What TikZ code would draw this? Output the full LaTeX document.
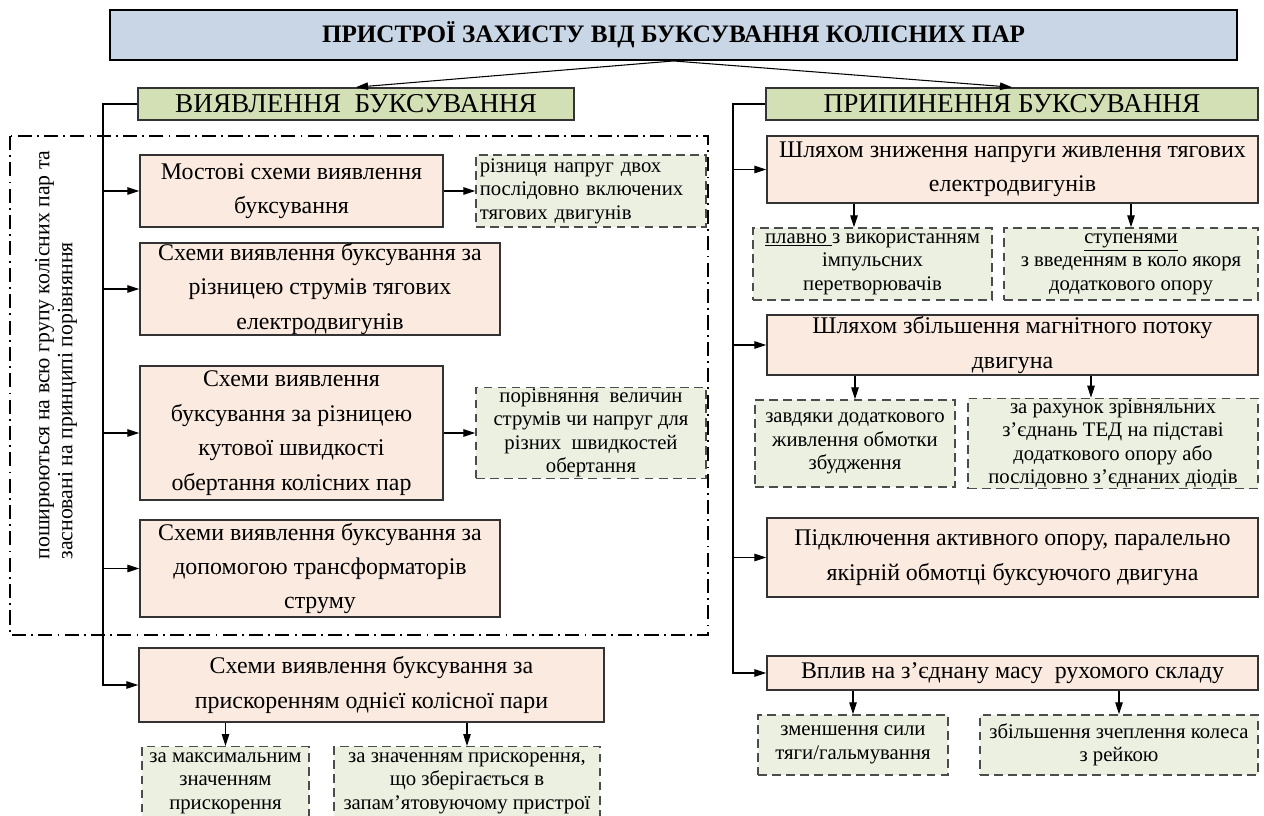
\documentclass[tikz,border=0pt]{standalone}
\usepackage{fontspec}
\setmainfont{Liberation Serif}
\usetikzlibrary{arrows.meta}
\definecolor{titleblue}{RGB}{201,214,230}
\definecolor{headgreen}{RGB}{211,223,181}
\definecolor{boxpeach}{RGB}{251,234,223}
\definecolor{notegreen}{RGB}{235,240,225}

\begin{document}
\begin{tikzpicture}[
	titlebox/.style={draw=black, line width=1.1pt, fill=titleblue, minimum height=1cm, font=\fontsize{14.3}{16}\selectfont\bfseries},
	headbox/.style={draw=black!80, line width=0.9pt, fill=headgreen, minimum height=0.64cm, inner sep=0pt, font=\fontsize{15.5}{17}\selectfont},
	mainbox/.style={draw=black!80, line width=0.8pt, fill=boxpeach, align=center, inner xsep=1pt, inner ysep=0pt, font=\fontsize{13.6}{19.6}\selectfont},
	notebox/.style={draw=black!70, line width=0.8pt, dash pattern=on 5pt off 3pt, fill=notegreen, align=center, inner xsep=1pt, inner ysep=0.5pt, font=\fontsize{11.8}{13.4}\selectfont},
	conn/.style={line width=0.6pt, -{Triangle[length=0.24cm,width=0.15cm]}}]
	\useasboundingbox (0,0) rectangle (25.28,-16.32);

	\draw[] (13.47,-0.7) node[titlebox, minimum width=22.54cm] (Title) {ПРИСТРОЇ ЗАХИСТУ ВІД БУКСУВАННЯ КОЛІСНИХ ПАР};
	\draw[] (7.12,-2.08) node[headbox, minimum width=8.72cm] (DetectHead) {ВИЯВЛЕННЯ~ БУКСУВАННЯ};
	\draw[] (20.24,-2.08) node[headbox, minimum width=9.84cm] (StopHead) {ПРИПИНЕННЯ БУКСУВАННЯ};

	% detection side
	\draw[line width=1pt, dash pattern=on 8pt off 3pt on 1pt off 3pt] (0.2,-2.72) rectangle (14.16,-12.7);
	\draw[] (1.12,-7.1) node[rotate=90, align=left, inner sep=0pt, font=\fontsize{12.4}{13}\selectfont] (ScopeNote) {поширюються на всю групу колісних пар та\\засновані на принципі порівняння};

	\draw[] (5.83,-3.82) node[mainbox, minimum width=6.06cm, minimum height=1.44cm] (Bridge) {Мостові схеми виявлення\\буксування};
	\draw[] (11.82,-3.82) node[notebox, minimum width=4.6cm, minimum height=1.44cm, text width=4.45cm, align=left] (BridgeNote) {різниця напруг двох\\послідовно включених\\тягових двигунів};
	\draw[] (6.4,-5.78) node[mainbox, minimum width=7.2cm, minimum height=1.84cm] (CurrentDiff) {Схеми виявлення буксування за\\різницею струмів тягових\\електродвигунів};
	\draw[] (5.83,-8.66) node[mainbox, minimum width=6.06cm, minimum height=2.68cm] (SpeedDiff) {Схеми виявлення\\буксування за різницею\\кутової швидкості\\обертання колісних пар};
	\draw[] (11.82,-8.66) node[notebox, minimum width=4.6cm, minimum height=1.8cm] (SpeedNote) {порівняння~ величин\\струмів чи напруг для\\різних~ швидкостей\\обертання};
	\draw[] (6.4,-11.37) node[mainbox, minimum width=7.2cm, minimum height=1.94cm] (Transformer) {Схеми виявлення буксування за\\допомогою трансформаторів\\струму};
	\draw[] (7.43,-13.7) node[mainbox, minimum width=9.3cm, minimum height=1.48cm] (Accel) {Схеми виявлення буксування за\\прискоренням однієї колісної пари};
	\draw[] (4.51,-14.92) node[notebox, anchor=north, minimum width=3.34cm, minimum height=1.46cm] (AccelMax) {за максимальним\\значенням\\прискорення};
	\draw[] (9.34,-14.92) node[notebox, anchor=north, minimum width=5.32cm, minimum height=1.46cm] (AccelMem) {за значенням прискорення,\\що зберігається в\\запам'ятовуючому пристрої};

	\coordinate (DetectTrunk) at (2.06,-2.08);
	\draw[conn] (DetectHead.west) -- (DetectTrunk) |- (Accel.west);
	\foreach \n in {Bridge,CurrentDiff,SpeedDiff,Transformer}
		\draw[conn] (\n.west -| DetectTrunk) -- (\n.west);
	\draw[conn] (Bridge.east) -- (BridgeNote.west);
	\draw[conn] (SpeedDiff.east) -- (SpeedNote.west);
	\draw[conn] (Accel.south -| AccelMax.north) -- (AccelMax.north);
	\draw[conn] (Accel.south -| AccelMem.north) -- (AccelMem.north);

	% stopping side
	\draw[] (20.25,-3.39) node[mainbox, minimum width=9.82cm, minimum height=1.34cm] (Voltage) {Шляхом зниження напруги живлення тягових\\електродвигунів};
	\draw[] (17.45,-5.28) node[notebox, minimum width=4.78cm, minimum height=1.44cm] (VoltSmooth) {\underline{плавно }з використанням\\імпульсних\\перетворювачів};
	\draw[] (22.62,-5.28) node[notebox, minimum width=5.08cm, minimum height=1.44cm] (VoltStep) {\underline{ступенями}\\з введенням в коло якоря\\додаткового опору};
	\draw[] (20.25,-6.9) node[mainbox, minimum width=9.82cm, minimum height=1.2cm] (Flux) {Шляхом збільшення магнітного потоку\\двигуна};
	\draw[] (17.1,-8.87) node[notebox, minimum width=4.0cm, minimum height=1.74cm] (FluxFeed) {завдяки додаткового\\живлення обмотки\\збудження};
	\draw[] (22.26,-8.87) node[notebox, minimum width=5.8cm, minimum height=1.74cm] (FluxBalance) {за рахунок зрівняльних\\з’єднань ТЕД на підставі\\додаткового опору або\\послідовно з’єднаних діодів};
	\draw[] (20.25,-11.15) node[mainbox, minimum width=9.82cm, minimum height=1.58cm] (Shunt) {Підключення активного опору, паралельно\\якірній обмотці буксуючого двигуна};
	\draw[] (20.25,-13.46) node[mainbox, minimum width=9.82cm, minimum height=0.68cm] (Mass) {Вплив на з’єднану масу~ рухомого складу};
	\draw[] (17.06,-14.9) node[notebox, minimum width=3.8cm, minimum height=1.2cm] (MassForce) {зменшення сили\\тяги/гальмування};
	\draw[] (22.38,-14.9) node[notebox, minimum width=5.56cm, minimum height=1.2cm] (MassGrip) {збільшення зчеплення колеса\\з рейкою};

	\coordinate (StopTrunk) at (14.66,-2.08);
	\draw[conn] (StopHead.west) -- (StopTrunk) |- (Mass.west);
	\foreach \n in {Voltage,Flux,Shunt}
		\draw[conn] (\n.west -| StopTrunk) -- (\n.west);
	\draw[conn] ([xshift=-0.37cm]VoltSmooth.north |- Voltage.south) -- ([xshift=-0.37cm]VoltSmooth.north);
	\draw[conn] (VoltStep.north |- Voltage.south) -- (VoltStep.north);
	\draw[conn] (FluxFeed.north |- Flux.south) -- (FluxFeed.north);
	\draw[conn] ([xshift=-0.44cm]FluxBalance.north |- Flux.south) -- ([xshift=-0.44cm]FluxBalance.north);
	\draw[conn] (MassForce.north |- Mass.south) -- (MassForce.north);
	\draw[conn] (MassGrip.north |- Mass.south) -- (MassGrip.north);

	\draw[conn] (Title.south) -- (DetectHead.north);
	\draw[conn] (Title.south) -- (StopHead.north);
\end{tikzpicture}
\end{document}
